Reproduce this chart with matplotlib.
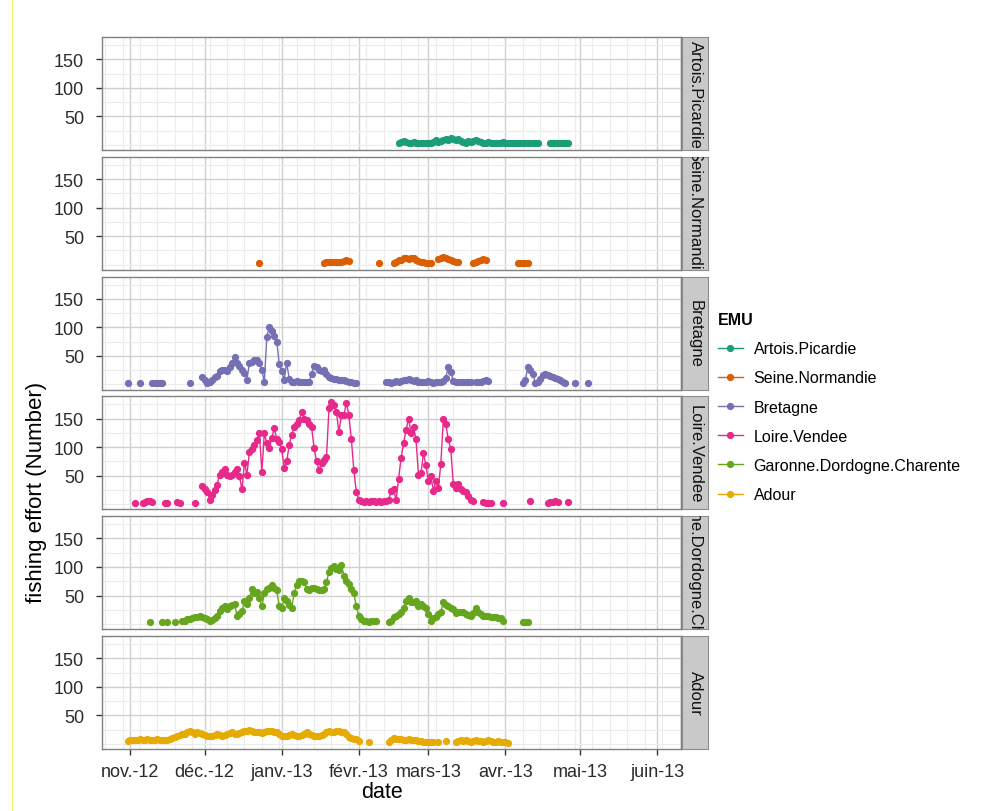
import numpy as np
import pandas as pd
import matplotlib
matplotlib.use("Agg")
import matplotlib.pyplot as plt
import matplotlib.dates as mdates
from matplotlib.lines import Line2D

plt.rcParams['font.family'] = ['Liberation Sans', 'DejaVu Sans']

# EMU facets, top to bottom, with their Dark2 colours
emus = ["Artois.Picardie", "Seine.Normandie", "Bretagne", "Loire.Vendee",
        "Garonne.Dordogne.Charente", "Adour"]
colors = ["#1B9E77", "#D95F02", "#7570B3", "#E7298A", "#66A61E", "#E6AB02"]

month_ticks = ["2012-11-01", "2012-12-01", "2013-01-01", "2013-02-01",
               "2013-03-01", "2013-04-01", "2013-05-01", "2013-06-01"]
month_labels = ["nov.-12", "déc.-12", "janv.-13", "févr.-13",
                "mars-13", "avr.-13", "mai-13", "juin-13"]
y_ticks = [50, 100, 150]

# daily fishing effort: runs of consecutive days as (first day, values)
artois_picardie = [
    ("2013-02-17", [3, 5, 6, 5, 4, 4, 5, 4, 4, 3, 4, 4, 3, 4, 5, 8, 5, 6, 8, 10,
                    9, 12, 10, 9, 10, 7, 5, 4, 6, 5, 6, 8, 6, 5, 4, 4, 5, 4, 4, 3,
                    4, 4, 5, 4, 4, 3, 4, 4, 4, 3, 4, 4, 4, 3, 4, 4, 4]),
    ("2013-04-19", [4, 4, 4, 4, 4, 4, 4, 4]),
]

seine_normandie = [
    ("2012-12-23", [3]),
    ("2013-01-18", [3, 4, 4, 4, 5, 5, 4, 5, 6, 8, 6]),
    ("2013-02-09", [3]),
    ("2013-02-15", [3, 5, 8, 8, 12, 11, 10, 12, 12, 8, 6, 5, 4, 3, 3, 3]),
    ("2013-03-05", [10, 12, 13, 12, 10, 8, 6, 5, 5]),
    ("2013-03-19", [3, 4, 7, 9, 10, 8]),
    ("2013-04-06", [3, 3, 3, 3, 3]),
]

bretagne = [
    ("2012-10-31", [2]),
    ("2012-11-05", [2]),
    ("2012-11-10", [2, 2, 2, 2, 2]),
    ("2012-11-25", [2]),
    ("2012-11-30", [13, 8, 2, 5, 8, 13, 15, 23, 25, 25, 23, 30, 38, 48, 38, 33, 25, 20, 8, 38,
                    40, 43, 43, 38, 25, 5, 84, 101, 93, 85, 75, 35, 23, 8, 38, 10, 5, 5, 6, 5,
                    4, 5, 5, 4, 18, 33, 31, 26, 23, 26, 18, 13, 12, 10, 9, 8, 8, 7, 6, 5,
                    4, 3, 3]),
    ("2013-02-12", [4, 4, 3, 5, 6, 5, 6, 8, 8, 9, 7, 6, 7, 5, 5, 4, 5, 6, 4, 3,
                    5, 4, 5, 6, 12, 31, 22, 6, 5, 5, 4, 4, 5, 4, 4]),
    ("2013-03-20", [4, 5, 5, 6, 7, 6]),
    ("2013-04-08", [3, 8, 31, 26, 18, 3, 5, 10, 16, 18, 17, 15, 13, 12, 9, 7, 5, 3]),
    ("2013-04-29", [3]),
    ("2013-05-04", [3]),
]

loire_vendee = [
    ("2012-11-03", [3]),
    ("2012-11-06", [3, 4, 6, 5, 4]),
    ("2012-11-15", [3, 3]),
    ("2012-11-20", [4, 3]),
    ("2012-11-27", [3]),
    ("2012-11-30", [32, 27, 22, 8, 17, 25, 34, 52, 57, 62,
                    52, 50, 52, 57, 62, 49, 26, 73, 52, 92,
                    96, 104, 112, 125, 57, 125, 107, 99, 116, 133,
                    114, 109, 96, 64, 75, 104, 122, 135, 140, 148,
                    161, 150, 148, 140, 135, 99, 75, 60, 73, 78,
                    83, 168, 180, 174, 161, 127, 156, 156, 178, 156,
                    114, 60, 21, 8, 5, 4, 5, 4, 5, 6,
                    4, 5, 4, 6, 5, 8, 23, 26, 8, 44,
                    81, 107, 130, 150, 125, 135, 114, 52, 54, 90,
                    68, 40, 49, 24, 40, 29, 71, 150, 140, 114,
                    96, 36, 28, 36, 26, 23, 21, 14, 8, 5]),
    ("2013-03-23", [4, 3, 3, 3]),
    ("2013-03-31", [3]),
    ("2013-04-11", [5]),
    ("2013-04-18", [3, 4, 4, 5, 4]),
    ("2013-04-26", [4]),
]

garonne_dordogne_charente = [
    ("2012-11-09", [3]),
    ("2012-11-14", [3]),
    ("2012-11-16", [3]),
    ("2012-11-19", [3]),
    ("2012-11-22", [5, 5, 8, 8, 10, 12, 13, 15, 12, 10,
                    8, 5, 7, 10, 15, 23, 28, 31, 26, 31,
                    33, 36, 15, 18, 23, 40, 36, 45, 62, 54,
                    57, 45, 31, 54, 62, 64, 68, 64, 59, 31,
                    28, 45, 40, 33, 28, 54, 68, 76, 76, 73,
                    62, 59, 64, 64, 62, 59, 59, 62, 73, 92,
                    99, 101, 96, 94, 104, 85, 76, 70, 62, 54,
                    31, 15, 8, 5, 5, 4, 5, 5, 5]),
    ("2013-02-13", [3, 5, 12, 15, 18, 22, 29, 41, 46, 38,
                    39, 41, 31, 36, 31, 29, 18, 5, 10, 12,
                    18, 22, 38, 33, 31, 29, 26, 20, 22, 22,
                    22, 18, 16, 15, 20, 29, 22, 18, 15, 15,
                    14, 12, 12, 12, 11, 10, 5]),
    ("2013-04-08", [3, 3, 3]),
]

adour = [
    ("2012-10-31", [5, 6, 7, 6, 7, 8, 6, 7, 8, 7,
                    6, 7, 8, 7, 6, 6, 7, 8, 10, 12,
                    13, 15, 17, 18, 20, 22, 20, 18, 20, 19,
                    17, 15, 14, 13, 13, 15, 17, 16, 14, 15,
                    17, 19, 20, 18, 17, 19, 21, 22, 23, 24,
                    22, 21, 20, 20, 19, 21, 22, 23, 22, 21,
                    20, 17, 14, 13, 14, 16, 17, 16, 14, 13,
                    16, 18, 20, 18, 15, 14, 13, 14, 16, 18,
                    20, 22, 21, 20, 22, 23, 21, 20, 18, 12,
                    10, 9, 8, 5]),
    ("2013-02-05", [3]),
    ("2013-02-13", [3, 7, 10, 9, 8, 8, 7, 7, 8, 7, 6, 6, 5, 5, 4, 4, 3, 4, 4]),
    ("2013-03-05", [3]),
    ("2013-03-08", [5]),
    ("2013-03-12", [4, 5, 6, 5, 6, 5, 4, 5, 6, 5, 5, 4, 5, 6, 5, 4, 4, 5, 4, 3, 3, 2]),
]

series = [artois_picardie, seine_normandie, bretagne, loire_vendee,
          garonne_dordogne_charente, adour]


def to_daily(segments):
    # one value per day, NaN on days without data so the line breaks there
    parts = []
    for start, vals in segments:
        idx = pd.date_range(start, periods=len(vals), freq="D")
        parts.append(pd.Series(vals, index=idx, dtype=float))
    s = pd.concat(parts)
    return s.reindex(pd.date_range(s.index.min(), s.index.max(), freq="D"))


W, H = 987, 812
fig = plt.figure(figsize=(W / 100, H / 100), dpi=100)
fig.patch.set_facecolor("white")


def rect(x0, y0, x1, y1):
    return [x0 / W, 1 - y1 / H, (x1 - x0) / W, (y1 - y0) / H]


nov1 = mdates.date2num(pd.Timestamp("2012-11-01"))
xlim = (nov1 - 11.3, nov1 + 221.6)
top0, pitch, ph = 38, 119.8, 113
tick_fs = 13
strip_fs = 12

for i, (name, col, segs) in enumerate(zip(emus, colors, series)):
    top = top0 + i * pitch
    ax = fig.add_axes(rect(102, top, 681, top + ph))
    s = to_daily(segs)
    ax.plot(s.index, s.values, color=col, lw=1.0, marker="o", ms=4.2,
            mec=col, mfc=col, zorder=3)

    ax.set_xlim(xlim)
    ax.set_ylim(-9, 189)
    ax.set_xticks(pd.to_datetime(month_ticks))
    ax.xaxis.set_minor_locator(mdates.WeekdayLocator(byweekday=mdates.MO))
    ax.set_yticks(y_ticks)
    ax.set_yticks([0, 25, 75, 125, 175], minor=True)
    ax.grid(which="major", color="#d0d0d0", lw=1.0)
    ax.grid(which="minor", color="#ececec", lw=0.8)
    ax.set_axisbelow(True)
    for sp in ax.spines.values():
        sp.set_color("#808080")
        sp.set_linewidth(1.0)
    ax.tick_params(which="minor", length=0)
    ax.tick_params(axis="y", which="major", length=4, width=1, color="#333333",
                   labelsize=tick_fs, labelcolor="#2b2b2b", pad=9)
    if i == len(emus) - 1:
        ax.set_xticklabels(month_labels)
        ax.tick_params(axis="x", which="major", length=4, width=1, color="#333333",
                       labelsize=tick_fs, labelcolor="#2b2b2b", pad=6)
    else:
        ax.tick_params(axis="x", which="major", length=0, labelbottom=False)

    # facet strip on the right, label clipped to the strip like the original
    sax = fig.add_axes(rect(682, top, 708, top + ph))
    sax.set_facecolor("#c9c9c9")
    sax.set_xticks([])
    sax.set_yticks([])
    for sp in sax.spines.values():
        sp.set_color("#8c8c8c")
    sax.text(0.5, 0.5, name, rotation=-90, ha="center", va="center",
             transform=sax.transAxes, fontsize=strip_fs, color="#111111",
             clip_on=True)

fig.text(37 / W, 1 - 492 / H, "fishing effort (Number)", rotation=90,
         ha="center", va="center", fontsize=16)
fig.text(382 / W, 1 - 793 / H, "date", ha="center", va="center", fontsize=15.5)

handles = [Line2D([], [], color=c, lw=1.0, marker="o", ms=4.2) for c in colors]
fig.legend(handles, emus, loc="upper left", bbox_to_anchor=(718 / W, 1 - 313 / H),
           frameon=False, title="EMU", alignment="left",
           title_fontproperties={"weight": "bold", "size": 11.5},
           fontsize=11.5, handlelength=1.55, handletextpad=0.68,
           labelspacing=0.89, borderaxespad=0, borderpad=0)

# thin yellow edge line on the left of the reference image
fig.add_artist(Line2D([11.5 / W, 11.5 / W], [0, 1], color="#f4ef6a", lw=0.8))

fig.savefig("out.png", dpi=100)
